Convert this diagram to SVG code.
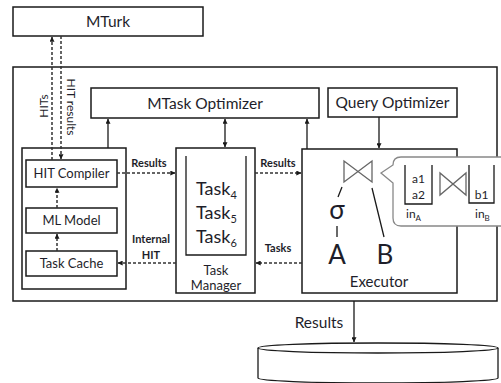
<svg xmlns="http://www.w3.org/2000/svg" width="501" height="383" viewBox="0 0 501 383">
<style>
text{font-family:Lato,"Open Sans","Liberation Sans",sans-serif;fill:#1e1e2a}
.box{fill:#fff;stroke:#1a1a1a;stroke-width:1.5}
.ln{stroke:#1a1a1a;stroke-width:1.3;fill:none}
.dash{stroke:#333;stroke-width:1.5;fill:none;stroke-dasharray:3,2}
.gray{stroke:#666;stroke-width:1.3;fill:none}
.lbl{font-size:11px;font-weight:bold}
.t13{font-size:13px}
.t15{font-size:15.5px}
</style>
<defs>
<marker id="ah" viewBox="0 0 8 8" refX="7.5" refY="4" markerWidth="5" markerHeight="5" orient="auto-start-reverse" markerUnits="userSpaceOnUse">
<path d="M0,0 L8,4 L0,8 z" fill="#1a1a1a"/>
</marker>
</defs>

<g id="outer"><rect class="box" x="13" y="67" width="484" height="234"/></g>

<g id="mturk"><rect class="box" x="13" y="7" width="190" height="29"/><text class="t15" x="108" y="27" text-anchor="middle">MTurk</text></g>

<g id="mtask-optimizer"><rect class="box" x="91" y="88" width="228" height="30"/><text class="t15" x="205" y="109" text-anchor="middle">MTask Optimizer</text></g>

<g id="query-optimizer"><rect class="box" x="328" y="88" width="129" height="29"/><text class="t15" x="392.5" y="108" text-anchor="middle">Query Optimizer</text></g>

<g id="left-container"><rect class="box" x="22" y="148" width="104" height="141"/></g>

<g id="hit-compiler"><rect class="box" x="26" y="160" width="91" height="27"/><text class="t13" x="71.5" y="178" text-anchor="middle">HIT Compiler</text></g>
<g id="ml-model"><rect class="box" x="26" y="208" width="91" height="25"/><text class="t13" x="71.5" y="225" text-anchor="middle">ML Model</text></g>
<g id="task-cache"><rect class="box" x="26" y="251" width="91" height="25"/><text class="t13" x="71.5" y="268" text-anchor="middle">Task Cache</text></g>

<g id="task-manager">
<rect class="box" x="176" y="148" width="79" height="145"/>
<path class="ln" d="M186,156 V255 H246 V156"/>
<text x="196" y="195" font-size="18">Task<tspan font-size="11" dy="4">4</tspan></text>
<text x="196" y="219" font-size="18">Task<tspan font-size="11" dy="4">5</tspan></text>
<text x="196" y="243" font-size="18">Task<tspan font-size="11" dy="4">6</tspan></text>
<text class="t13" x="216" y="275" text-anchor="middle">Task</text>
<text class="t13" x="216" y="290" text-anchor="middle">Manager</text>
</g>

<g id="executor">
<rect class="box" x="302" y="149" width="155" height="144"/>
<path class="gray" d="M344,161 V182 L372,161 V182 Z"/>
<path class="ln" d="M342,187 L338,197 M337,226 V237 M372,188 L384,237"/>
<text x="337" y="219" font-size="26" text-anchor="middle">σ</text>
<text x="337" y="264" font-size="26" text-anchor="middle">A</text>
<text x="385" y="264" font-size="26" text-anchor="middle">B</text>
<text x="379" y="287" font-size="15" text-anchor="middle">Executor</text>
</g>

<g id="callout">
<path d="M520,157 H401 Q393,157 393,165 L381,173 L393,183 V218 Q393,226 401,226 H520" fill="#fff" stroke="#888" stroke-width="1.3"/>
<path class="ln" d="M405,165 V204 H432 V165"/>
<text x="418.5" y="183" font-size="12" text-anchor="middle">a1</text>
<text x="418.5" y="199" font-size="12" text-anchor="middle">a2</text>
<text x="406" y="218" font-size="12">in<tspan font-size="8" dy="3">A</tspan></text>
<path class="gray" d="M440,173 V195 L466,173 V195 Z"/>
<path class="ln" d="M469,165 V203 H494 V165"/>
<text x="481.5" y="199" font-size="12" text-anchor="middle">b1</text>
<text x="475" y="218" font-size="12">in<tspan font-size="8" dy="3">B</tspan></text>
</g>

<g id="results-db">
<path d="M258,348 V378 A120,5 0 0 0 498,378 V348" fill="#fff" stroke="#1a1a1a" stroke-width="1.3"/>
<ellipse cx="378" cy="348" rx="120" ry="5" fill="#fff" stroke="#1a1a1a" stroke-width="1.3"/>
</g>

<g id="connectors">
<line class="dash" x1="52" y1="160" x2="52" y2="37" marker-end="url(#ah)"/>
<line class="dash" x1="61" y1="36" x2="61" y2="159" marker-end="url(#ah)"/>
<text font-size="12" transform="translate(48,106) rotate(-90)" text-anchor="middle">HITs</text>
<text font-size="12" transform="translate(67,107) rotate(90)" text-anchor="middle">HIT results</text>

<line class="ln" x1="108" y1="148" x2="108" y2="119" marker-end="url(#ah)"/>
<line class="ln" x1="225" y1="119" x2="225" y2="147" marker-start="url(#ah)" marker-end="url(#ah)"/>
<line class="ln" x1="307" y1="149" x2="307" y2="119" marker-end="url(#ah)"/>
<line class="ln" x1="379" y1="117" x2="379" y2="148" marker-end="url(#ah)"/>

<line class="dash" x1="117" y1="173" x2="175" y2="173" marker-end="url(#ah)"/>
<text class="lbl" x="149" y="167" text-anchor="middle">Results</text>
<line class="dash" x1="176" y1="263" x2="118" y2="263" marker-end="url(#ah)"/>
<text class="lbl" x="151" y="243" text-anchor="middle">Internal</text>
<text class="lbl" x="151" y="259" text-anchor="middle">HIT</text>

<line class="dash" x1="57" y1="251" x2="57" y2="234" marker-end="url(#ah)"/>
<line class="dash" x1="57" y1="208" x2="57" y2="188" marker-end="url(#ah)"/>

<line class="dash" x1="255" y1="173" x2="301" y2="173" marker-end="url(#ah)"/>
<text class="lbl" x="278" y="167" text-anchor="middle">Results</text>
<line class="dash" x1="302" y1="263" x2="256" y2="263" marker-end="url(#ah)"/>
<text class="lbl" x="278" y="252" text-anchor="middle">Tasks</text>

<line class="ln" x1="354" y1="301" x2="354" y2="342" marker-end="url(#ah)"/>
<text x="319" y="328" font-size="15.5" text-anchor="middle">Results</text>
</g>
</svg>
